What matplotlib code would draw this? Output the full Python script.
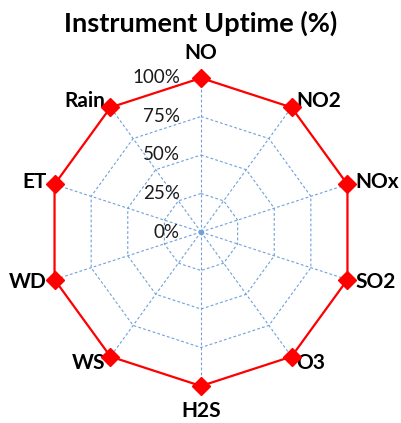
import matplotlib
matplotlib.use("Agg")
import matplotlib.pyplot as plt
import numpy as np

categories = ["NO", "NO2", "NOx", "SO2", "O3", "H2S", "WS", "WD", "ET", "Rain"]
uptime = [100, 100, 100, 100, 100, 100, 100, 100, 100, 100]
ring_levels = [25, 50, 75, 100]
tick_labels = ["0%", "25%", "50%", "75%", "100%"]
tick_values = [0, 25, 50, 75, 100]

plt.rcParams["font.family"] = ["Lato", "DejaVu Sans"]

n = len(categories)
# NO at the top, going clockwise
ang = np.pi / 2 - 2 * np.pi * np.arange(n) / n
ux, uy = np.cos(ang), np.sin(ang)

fig = plt.figure(figsize=(4.01, 4.23), dpi=100)
ax = fig.add_axes([0, 0, 1, 1])
k = 100 / 154.0  # data units per pixel
ax.set_xlim(-201 * k, 200 * k)
ax.set_ylim(-191 * k, 232 * k)
ax.axis("off")

grid_c = "#6fa0dc"
for r in ring_levels:
    ax.plot(np.append(ux, ux[0]) * r, np.append(uy, uy[0]) * r,
            color=grid_c, lw=0.8, ls=(0, (2.5, 2)), zorder=1)
for i in range(n):
    ax.plot([0, ux[i] * 100], [0, uy[i] * 100], color=grid_c, lw=0.8,
            ls=(0, (2.5, 2)), zorder=1)
ax.plot([0], [0], "o", color=grid_c, ms=3, zorder=1)

vals = np.array(uptime, dtype=float)
ax.plot(np.append(ux * vals, ux[0] * vals[0]), np.append(uy * vals, uy[0] * vals[0]),
        color="#ff0000", lw=1.6, zorder=3)
ax.plot(ux * vals, uy * vals, "D", color="#ff0000", ms=9, zorder=4)

for tv, tl in zip(tick_values, tick_labels):
    ax.text(-21 * k, tv, tl, ha="right", va="center", fontsize=13.5, color="#1a1a1a")

rl = 105.5
for i, cat in enumerate(categories):
    x, y = ux[i] * rl, uy[i] * rl
    if abs(ux[i]) < 1e-6:
        ha = "center"
        va = "bottom" if uy[i] > 0 else "top"
        y = uy[i] * (rl + 4)
    else:
        ha = "left" if ux[i] > 0 else "right"
        va = "center"
    ax.text(x, y, cat, ha=ha, va=va, fontsize=15, fontweight="bold", color="black")

fig.text(0.5, 1 - 23 / 423, "Instrument Uptime (%)", ha="center", va="center",
         fontsize=19.5, fontweight="bold")

fig.savefig("out.png", dpi=100)
